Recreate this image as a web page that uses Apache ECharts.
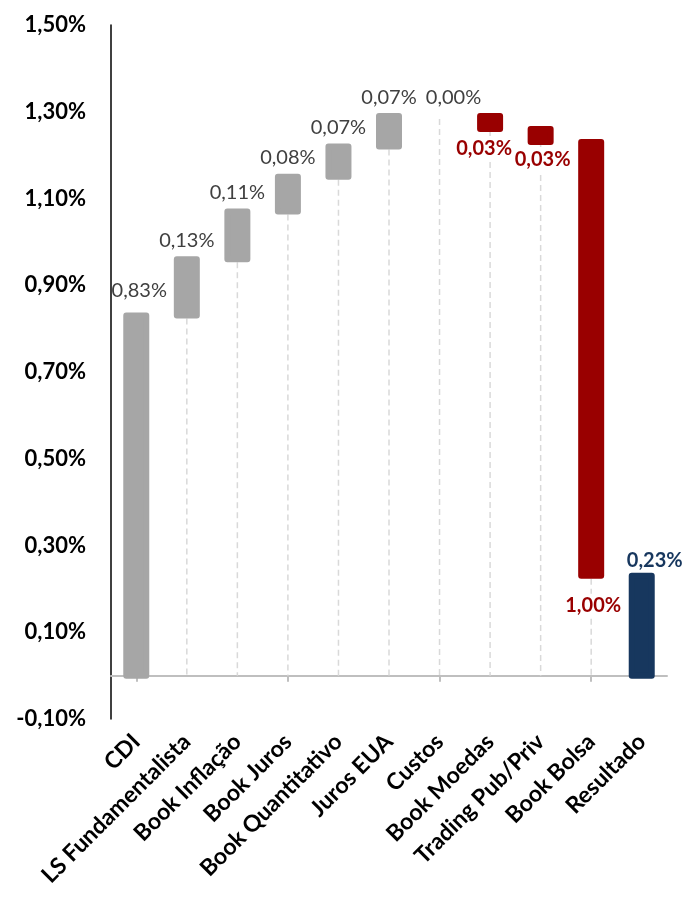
<!DOCTYPE html>
<html><head><meta charset="utf-8">
<script src="https://cdn.jsdelivr.net/npm/echarts@6/dist/echarts.min.js"></script>
<style>html,body{margin:0;padding:0;background:#fff}#c{width:684px;height:911px}</style>
</head><body><div id="c"></div>
<script>
const categories = ['CDI','LS Fundamentalista','Book Inflação','Book Juros','Book Quantitativo','Juros EUA','Custos','Book Moedas','Trading Pub/Priv','Book Bolsa','Resultado'];
const deltas = [0.83, 0.13, 0.11, 0.08, 0.07, 0.07, 0.00, -0.03, -0.03, -1.00, 0.23];
const kinds = ['start','step','step','step','step','step','step','step','step','step','total'];
const yTicks = {min: -0.1, max: 1.5, interval: 0.2};

const GRAY = '#a6a6a6', RED = '#990000', NAVY = '#17375e';
const fmt = v => Math.abs(v).toFixed(2).replace('.', ',') + '%';
// per-label pixel tweaks (style only)
const labelOffsetX = [3, 0, 0, 0, 0, 0, 14, -6, 2, 2, 13];
const labelDist = [15, 9, 9, 9, 9, 9, 9, 7, 5, 18, 5];

let running = 0;
const baseData = [], labelData = [], rectData = [], dropData = [], rectColors = [];
deltas.forEach((d, i) => {
  let base, h;
  if (kinds[i] === 'start') { base = 0; h = d; running = d; }
  else if (kinds[i] === 'total') { base = 0; h = d; }
  else { const s = running, e = running + d; base = Math.min(s, e); h = Math.abs(d); running = e; dropData.push([i, base]); }
  baseData.push(base);
  const neg = d < 0, tot = kinds[i] === 'total';
  const color = tot ? NAVY : (neg ? RED : GRAY);
  const lblColor = tot ? NAVY : (neg ? RED : '#404040');
  if (h > 0) { rectData.push([i, base, base + h]); rectColors.push(color); }
  labelData.push({
    value: h,
    label: {
      show: true,
      position: neg ? 'bottom' : 'top',
      distance: labelDist[i],
      offset: [labelOffsetX[i], 0],
      color: lblColor,
      fontWeight: (neg || tot) ? 'bold' : 'normal',
      backgroundColor: neg ? '#fff' : 'transparent',
      padding: neg ? [2, 2] : 0,
      formatter: () => fmt(d)
    }
  });
});

const chart = echarts.init(document.getElementById('c'));
chart.setOption({
  animation: false,
  textStyle: {fontFamily: 'Lato'},
  grid: {left: 111, right: 17, top: 25, bottom: 192},
  xAxis: [
    {type: 'category', data: categories, axisLine: {onZero: true, lineStyle: {color: '#bfbfbf', width: 2}},
     axisTick: {show: true, alignWithLabel: true, length: 6, lineStyle: {color: '#bfbfbf', width: 2}},
     axisLabel: {show: false}},
    {type: 'category', data: categories, position: 'bottom', axisLine: {show: false, onZero: false},
     axisTick: {show: false},
     axisLabel: {show: true, rotate: 45, margin: 19, interval: 0, color: '#000', fontWeight: 'bold', fontSize: 23, fontFamily: 'Lato'}}
  ],
  yAxis: {
    type: 'value', min: yTicks.min, max: yTicks.max, interval: yTicks.interval,
    axisLine: {show: true, lineStyle: {color: '#000', width: 1.5}},
    axisTick: {show: false}, splitLine: {show: false},
    axisLabel: {margin: 25, color: '#000', fontWeight: 'bold', fontSize: 22, fontFamily: 'Lato',
      formatter: v => v.toFixed(2).replace('.', ',') + '%'}
  },
  series: [
    {type: 'custom', z: 1, data: dropData, silent: true,
     renderItem: (params, api) => {
       const p1 = api.coord([api.value(0), api.value(1)]);
       const p2 = api.coord([api.value(0), 0]);
       return {type: 'line', shape: {x1: p1[0], y1: p1[1] + 3, x2: p2[0], y2: p2[1]},
               style: {stroke: '#d9d9d9', lineWidth: 1.5, lineDash: [6, 4]}};
     }},
    {type: 'custom', z: 3, data: rectData, silent: true,
     renderItem: (params, api) => {
       const top = api.coord([api.value(0), api.value(2)]);
       const bot = api.coord([api.value(0), api.value(1)]);
       const c = rectColors[params.dataIndex];
       return {type: 'rect', shape: {x: top[0] - 10, y: top[1], width: 20, height: bot[1] - top[1]},
               style: {fill: c, stroke: c, lineWidth: 6, lineJoin: 'round'}};
     }},
    {type: 'bar', stack: 'w', data: baseData, barWidth: 26, itemStyle: {color: 'transparent'}, silent: true},
    {type: 'bar', stack: 'w', data: labelData, barWidth: 26, z: 4, itemStyle: {color: 'transparent'},
     label: {fontSize: 20, fontFamily: 'Lato'}}
  ]
});
</script></body></html>
